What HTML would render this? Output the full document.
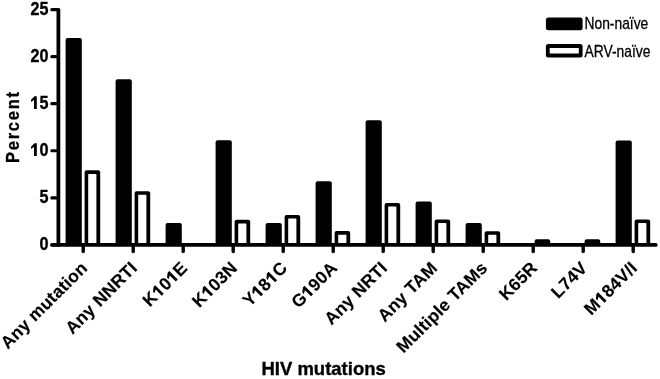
<!DOCTYPE html>
<html><head><meta charset="utf-8"><title>HIV mutations chart</title>
<style>
html,body{margin:0;padding:0;background:#fff;}
body{width:660px;height:379px;overflow:hidden;}
svg{display:block;will-change:transform;}
text{font-family:"Liberation Sans",sans-serif;fill:#000;}
.yl{font-size:17.6px;font-weight:bold;stroke:#000;stroke-width:0.35px;}
.cl{font-size:17.5px;font-weight:bold;letter-spacing:0.2px;stroke:#000;stroke-width:0.15px;}
.at{font-size:18px;font-weight:bold;stroke:#000;stroke-width:0.35px;}
tspan.h{fill:none;stroke:none;}
.lt{font-size:16px;stroke:#000;stroke-width:0.3px;}
</style></head>
<body>
<svg width="660" height="379" viewBox="0 0 660 379">
<rect x="65.6" y="37.9" width="16.2" height="208" rx="2.0" fill="#000"/>
<rect x="84.6" y="170.3" width="15.6" height="75.6" rx="2.0" fill="#000"/>
<rect x="88.2" y="173.9" width="8.2" height="71" rx="0.6" fill="#fff"/>
<rect x="115.6" y="79.2" width="16.2" height="166.7" rx="2.0" fill="#000"/>
<rect x="134.6" y="191.25" width="15.6" height="54.65" rx="2.0" fill="#000"/>
<rect x="138.2" y="194.85" width="8.2" height="50.05" rx="0.6" fill="#fff"/>
<rect x="165.6" y="222.9" width="16.2" height="23" rx="2.0" fill="#000"/>
<rect x="215.6" y="140.2" width="16.2" height="105.7" rx="2.0" fill="#000"/>
<rect x="234.6" y="219.8" width="15.6" height="26.1" rx="2.0" fill="#000"/>
<rect x="238.2" y="223.4" width="8.2" height="21.5" rx="0.6" fill="#fff"/>
<rect x="265.6" y="223.1" width="16.2" height="22.8" rx="2.0" fill="#000"/>
<rect x="284.6" y="214.9" width="15.6" height="31" rx="2.0" fill="#000"/>
<rect x="288.2" y="218.5" width="8.2" height="26.4" rx="0.6" fill="#fff"/>
<rect x="315.6" y="181.3" width="16.2" height="64.6" rx="2.0" fill="#000"/>
<rect x="334.6" y="231.1" width="15.6" height="14.8" rx="2.0" fill="#000"/>
<rect x="338.2" y="234.7" width="8.2" height="10.2" rx="0.6" fill="#fff"/>
<rect x="365.6" y="120.25" width="16.2" height="125.65" rx="2.0" fill="#000"/>
<rect x="384.6" y="202.9" width="15.6" height="43" rx="2.0" fill="#000"/>
<rect x="388.2" y="206.5" width="8.2" height="38.4" rx="0.6" fill="#fff"/>
<rect x="415.6" y="201.6" width="16.2" height="44.3" rx="2.0" fill="#000"/>
<rect x="434.6" y="219.5" width="15.6" height="26.4" rx="2.0" fill="#000"/>
<rect x="438.2" y="223.1" width="8.2" height="21.8" rx="0.6" fill="#fff"/>
<rect x="465.6" y="222.9" width="16.2" height="23" rx="2.0" fill="#000"/>
<rect x="484.6" y="231.2" width="15.6" height="14.7" rx="2.0" fill="#000"/>
<rect x="488.2" y="234.8" width="8.2" height="10.1" rx="0.6" fill="#fff"/>
<rect x="534.6" y="239.3" width="15.6" height="6.6" rx="2.0" fill="#000"/>
<rect x="584.6" y="239.3" width="15.6" height="6.6" rx="2.0" fill="#000"/>
<rect x="615.6" y="140.4" width="16.2" height="105.5" rx="2.0" fill="#000"/>
<rect x="634.6" y="219.5" width="15.6" height="26.4" rx="2.0" fill="#000"/>
<rect x="638.2" y="223.1" width="8.2" height="21.8" rx="0.6" fill="#fff"/>
<rect x="56.5" y="7.95" width="3.8" height="238.75" rx="1.6" fill="#000"/>
<rect x="56.5" y="7.95" width="2" height="3.2" fill="#000"/>
<rect x="50.3" y="243.1" width="607.2" height="3.6" rx="1.5" fill="#000"/>
<rect x="50.3" y="243.3" width="7.2" height="3.2" rx="1.5" fill="#000"/>
<text transform="translate(48.5,250.25) scale(0.92,1)" text-anchor="end" class="yl">0</text>
<rect x="50.3" y="196.23" width="7.2" height="3.2" rx="1.5" fill="#000"/>
<text transform="translate(48.5,203.18) scale(0.92,1)" text-anchor="end" class="yl">5</text>
<rect x="50.3" y="149.16" width="7.2" height="3.2" rx="1.5" fill="#000"/>
<text transform="translate(48.5,156.11) scale(0.92,1)" text-anchor="end" class="yl">0</text>
<path transform="translate(36.8,156.11)" d="M0,0V-12.75H-2.3L-5.8,-9.35V-7.1L-2.8,-9.15V0Z" fill="#000"/>
<rect x="50.3" y="102.09" width="7.2" height="3.2" rx="1.5" fill="#000"/>
<text transform="translate(48.5,109.04) scale(0.92,1)" text-anchor="end" class="yl">5</text>
<path transform="translate(36.8,109.04)" d="M0,0V-12.75H-2.3L-5.8,-9.35V-7.1L-2.8,-9.15V0Z" fill="#000"/>
<rect x="50.3" y="55.02" width="7.2" height="3.2" rx="1.5" fill="#000"/>
<text transform="translate(48.5,61.97) scale(0.92,1)" text-anchor="end" class="yl">20</text>
<rect x="50.3" y="7.95" width="7.2" height="3.2" rx="1.5" fill="#000"/>
<text transform="translate(48.5,14.9) scale(0.92,1)" text-anchor="end" class="yl">25</text>
<rect x="81.5" y="244.9" width="3.4" height="8.3" rx="1.7" fill="#000"/>
<rect x="131.5" y="244.9" width="3.4" height="8.3" rx="1.7" fill="#000"/>
<rect x="181.5" y="244.9" width="3.4" height="8.3" rx="1.7" fill="#000"/>
<rect x="231.5" y="244.9" width="3.4" height="8.3" rx="1.7" fill="#000"/>
<rect x="281.5" y="244.9" width="3.4" height="8.3" rx="1.7" fill="#000"/>
<rect x="331.5" y="244.9" width="3.4" height="8.3" rx="1.7" fill="#000"/>
<rect x="381.5" y="244.9" width="3.4" height="8.3" rx="1.7" fill="#000"/>
<rect x="431.5" y="244.9" width="3.4" height="8.3" rx="1.7" fill="#000"/>
<rect x="481.5" y="244.9" width="3.4" height="8.3" rx="1.7" fill="#000"/>
<rect x="531.5" y="244.9" width="3.4" height="8.3" rx="1.7" fill="#000"/>
<rect x="581.5" y="244.9" width="3.4" height="8.3" rx="1.7" fill="#000"/>
<rect x="631.5" y="244.9" width="3.4" height="8.3" rx="1.7" fill="#000"/>
<text transform="translate(88.4,269) rotate(-45)" text-anchor="end" class="cl">Any mutation</text>
<text transform="translate(138.4,269) rotate(-45)" text-anchor="end" class="cl">Any NNRTI</text>
<g transform="translate(188.4,269) rotate(-45)"><text id="cl2" text-anchor="end" class="cl">K<tspan class="h">1</tspan>0<tspan class="h">1</tspan>E</text><path transform="translate(-41.69,0)" d="M6.81,0V-12.06H4.45L0.54,-8.86V-6.70L4.01,-8.64V0Z" fill="#000"/><path transform="translate(-21.81,0)" d="M6.81,0V-12.06H4.45L0.54,-8.86V-6.70L4.01,-8.64V0Z" fill="#000"/></g>
<g transform="translate(238.4,269) rotate(-45)"><text id="cl3" text-anchor="end" class="cl">K<tspan class="h">1</tspan>03N</text><path transform="translate(-42.66,0)" d="M6.81,0V-12.06H4.45L0.54,-8.86V-6.70L4.01,-8.64V0Z" fill="#000"/></g>
<g transform="translate(288.4,269) rotate(-45)"><text id="cl4" text-anchor="end" class="cl">Y<tspan class="h">1</tspan>8<tspan class="h">1</tspan>C</text><path transform="translate(-42.66,0)" d="M6.81,0V-12.06H4.45L0.54,-8.86V-6.70L4.01,-8.64V0Z" fill="#000"/><path transform="translate(-22.78,0)" d="M6.81,0V-12.06H4.45L0.54,-8.86V-6.70L4.01,-8.64V0Z" fill="#000"/></g>
<g transform="translate(338.4,269) rotate(-45)"><text id="cl5" text-anchor="end" class="cl">G<tspan class="h">1</tspan>90A</text><path transform="translate(-42.66,0)" d="M6.81,0V-12.06H4.45L0.54,-8.86V-6.70L4.01,-8.64V0Z" fill="#000"/></g>
<text transform="translate(388.4,269) rotate(-45)" text-anchor="end" class="cl">Any NRTI</text>
<text transform="translate(438.4,269) rotate(-45)" text-anchor="end" class="cl">Any TAM</text>
<text transform="translate(488.4,269) rotate(-45)" text-anchor="end" class="cl">Multiple TAMs</text>
<text transform="translate(538.4,269) rotate(-45)" text-anchor="end" class="cl">K65R</text>
<text transform="translate(588.4,269) rotate(-45)" text-anchor="end" class="cl">L74V</text>
<g transform="translate(638.4,269) rotate(-45)"><text id="cl11" text-anchor="end" class="cl">M<tspan class="h">1</tspan>84V/I</text><path transform="translate(-51.81,0)" d="M6.81,0V-12.06H4.45L0.54,-8.86V-6.70L4.01,-8.64V0Z" fill="#000"/></g>
<text transform="translate(19,126.6) rotate(-90) scale(0.92,1)" text-anchor="middle" class="at" style="letter-spacing:1.9px;stroke-width:0.35px">Percent</text>
<text x="323.6" y="375.2" text-anchor="middle" class="at" style="font-size:18.5px">HIV mutations</text>
<rect x="545.9" y="17.4" width="36.7" height="12.8" rx="2.5" fill="#000"/>
<rect x="545.9" y="44.1" width="36.7" height="13.3" rx="2.5" fill="#000"/>
<rect x="549.7" y="47.9" width="29.1" height="5.7" rx="0.5" fill="#fff"/>
<text transform="translate(584.5,28.8) scale(0.865,1)" class="lt">Non-na&#239;ve</text>
<text transform="translate(584.5,56.5) scale(0.865,1)" class="lt">ARV-na&#239;ve</text>
</svg>
</body></html>
